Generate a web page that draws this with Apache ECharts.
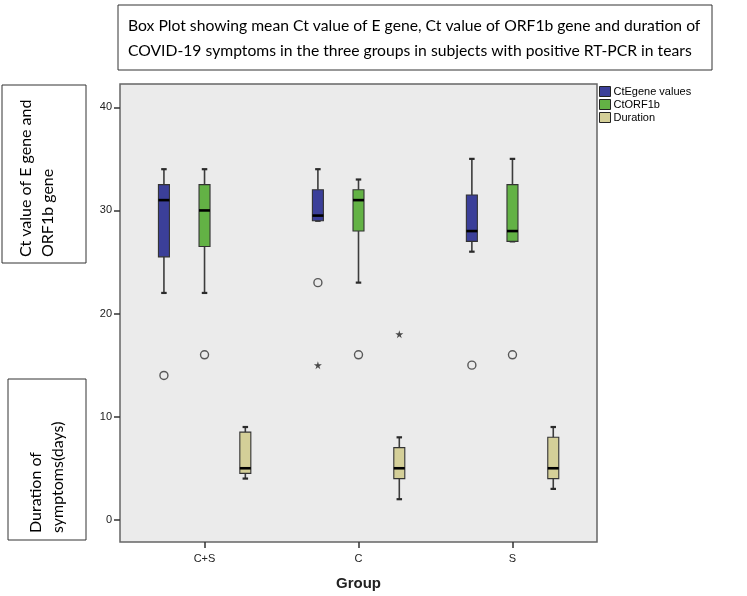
<!DOCTYPE html>
<html>
<head>
<meta charset="utf-8">
<script src="https://cdn.jsdelivr.net/npm/echarts@6/dist/echarts.min.js"></script>
<style>
html,body{margin:0;padding:0;background:#fff;}
#chart{width:747px;height:596px;}
</style>
</head>
<body>
<div id="chart"></div>
<script>
// ---- data ----
const groups = ['C+S', 'C', 'S'];
const seriesNames = ['CtEgene values', 'CtORF1b', 'Duration'];
// [lower whisker, Q1, median, Q3, upper whisker] per group
const ctE = [[22, 25.5, 31, 32.5, 34], [29, 29, 29.5, 32, 34], [26, 27, 28, 31.5, 35]];
const ctORF = [[22, 26.5, 30, 32.5, 34], [23, 28, 31, 32, 33], [27, 27, 28, 32.5, 35]];
const duration = [[4, 4.5, 5, 8.5, 9], [2, 4, 5, 7, 8], [3, 4, 5, 8, 9]];
// outliers: [group, value, kind]  (kind: 'mild' = circle, 'extreme' = star)
const ctEOutliers = [['C+S', 14, 'mild'], ['C', 23, 'mild'], ['C', 15, 'extreme'], ['S', 15, 'mild']];
const ctORFOutliers = [['C+S', 16, 'mild'], ['C', 16, 'mild'], ['S', 16, 'mild']];
const durationOutliers = [['C', 18, 'extreme']];
const yTicks = [0, 10, 20, 30, 40];

// ---- styles ----
const colors = ['#3b3f99', '#63b245', '#d4cf98'];
const offsets = [-40.6, 0, 40.8];
const starPath = 'path://M50,0 L61,35 L98,35 L68,57 L79,91 L50,70 L21,91 L32,57 L2,35 L39,35 Z';

function boxRender(offset, fill) {
  return function (params, api) {
    const gi = api.value(0);
    const lo = api.coord([gi, api.value(1)]);
    const q1 = api.coord([gi, api.value(2)]);
    const md = api.coord([gi, api.value(3)]);
    const q3 = api.coord([gi, api.value(4)]);
    const hi = api.coord([gi, api.value(5)]);
    const x = lo[0] + offset;
    const w = 11, cap = 5.5;
    const wl = {stroke: '#3c3c3c', lineWidth: 1.6};
    const cl = {stroke: '#2a2a2a', lineWidth: 2.2};
    return {
      type: 'group',
      children: [
        {type: 'line', shape: {x1: x, y1: hi[1], x2: x, y2: q3[1]}, style: wl},
        {type: 'line', shape: {x1: x, y1: q1[1], x2: x, y2: lo[1]}, style: wl},
        {type: 'line', shape: {x1: x - cap / 2, y1: hi[1], x2: x + cap / 2, y2: hi[1]}, style: cl},
        {type: 'line', shape: {x1: x - cap / 2, y1: lo[1], x2: x + cap / 2, y2: lo[1]}, style: cl},
        {type: 'rect', shape: {x: x - w / 2, y: q3[1], width: w, height: q1[1] - q3[1]},
          style: {fill: fill, stroke: '#333', lineWidth: 1.1}},
        {type: 'line', shape: {x1: x - w / 2, y1: md[1], x2: x + w / 2, y2: md[1]},
          style: {stroke: '#000', lineWidth: 2.6}}
      ]
    };
  };
}

function boxData(arr) {
  return groups.map((g, i) => [i].concat(arr[i]));
}
function outlierData(arr) {
  return arr.map(o => {
    const gi = groups.indexOf(o[0]);
    if (o[2] === 'extreme') {
      return {value: [gi, o[1]], symbol: starPath, symbolSize: 8,
        itemStyle: {color: '#222', borderWidth: 0}};
    }
    return {value: [gi, o[1]], symbol: 'circle', symbolSize: 8,
      itemStyle: {color: 'rgba(0,0,0,0)', borderColor: '#333', borderWidth: 1.4}};
  });
}

const boxes = [ctE, ctORF, duration];
const outs = [ctEOutliers, ctORFOutliers, durationOutliers];

const series = [];
boxes.forEach((b, k) => {
  series.push({
    name: seriesNames[k], type: 'custom', renderItem: boxRender(offsets[k], colors[k]),
    data: boxData(b), itemStyle: {color: colors[k]}, encode: {x: 0, y: [1, 2, 3, 4, 5]}, z: 3
  });
});
outs.forEach((o, k) => {
  series.push({
    name: seriesNames[k] + ' outliers', type: 'scatter', data: outlierData(o),
    symbolOffset: [offsets[k], 0], z: 4, silent: true
  });
});

const chart = echarts.init(document.getElementById('chart'), null, {renderer: 'canvas'});
const labelFont = 'Liberation Sans, Arial, sans-serif';
const textFont = 'Lato, Calibri, sans-serif';

chart.setOption({
  animation: false,
  backgroundColor: '#fff',
  legend: {
    data: seriesNames.map((n, k) => ({name: n, icon: 'rect',
      itemStyle: {color: colors[k], borderColor: '#222', borderWidth: 1}})),
    orient: 'vertical', left: 599, top: 86, padding: 0,
    itemWidth: 11, itemHeight: 10, itemGap: 2, selectedMode: false,
    textStyle: {fontSize: 11, color: '#000', fontFamily: labelFont, padding: [0, 0, 0, -2]}
  },
  grid: {
    left: 120, top: 84, width: 477, height: 461, show: true,
    backgroundColor: '#ebebeb', borderColor: '#666', borderWidth: 1.5
  },
  xAxis: {
    type: 'value', min: -0.549, max: 2.549, position: 'bottom',
    axisLine: {show: false, onZero: false}, splitLine: {show: false},
    axisTick: {show: true, customValues: [0, 1, 2], length: 6, inside: false,
      lineStyle: {color: '#333', width: 1.5}},
    axisLabel: {customValues: [0, 1, 2], formatter: v => groups[Math.round(v)] || '',
      fontSize: 11, color: '#222', fontFamily: labelFont, margin: 11},
    name: 'Group', nameLocation: 'middle', nameGap: 34,
    nameTextStyle: {fontSize: 15, fontWeight: 'bold', color: '#222', fontFamily: labelFont}
  },
  yAxis: {
    type: 'value', min: -2.15, max: 42.26, position: 'left',
    axisLine: {show: false, onZero: false}, splitLine: {show: false},
    axisTick: {show: true, customValues: yTicks, length: 6, inside: false,
      lineStyle: {color: '#333', width: 1.5}},
    axisLabel: {customValues: yTicks, fontSize: 11, color: '#222', fontFamily: labelFont, margin: 8}
  },
  graphic: [
    {type: 'rect', shape: {x: 118, y: 5, width: 594, height: 65},
      style: {fill: '#fff', stroke: '#333', lineWidth: 1}},
    {type: 'text', x: 128, y: 13, style: {
      text: 'Box Plot showing mean Ct value of E gene, Ct value of ORF1b gene and duration of\nCOVID-19 symptoms in the three groups in subjects with positive RT-PCR in tears',
      font: '15.7px ' + textFont, fill: '#000', lineHeight: 25, align: 'left', verticalAlign: 'top'}},
    {type: 'rect', shape: {x: 2, y: 85, width: 84, height: 178},
      style: {fill: '#fff', stroke: '#333', lineWidth: 1}},
    {type: 'text', x: 15, y: 257, rotation: Math.PI / 2, style: {
      text: 'Ct value of E gene and\nORF1b gene', font: '16px ' + textFont, fill: '#000',
      lineHeight: 22, align: 'left', verticalAlign: 'top'}},
    {type: 'rect', shape: {x: 8, y: 379, width: 78, height: 161},
      style: {fill: '#fff', stroke: '#333', lineWidth: 1}},
    {type: 'text', x: 25, y: 533, rotation: Math.PI / 2, style: {
      text: 'Duration of\nsymptoms(days)', font: '16px ' + textFont, fill: '#000',
      lineHeight: 22, align: 'left', verticalAlign: 'top'}}
  ],
  series: series
});
</script>
</body>
</html>
